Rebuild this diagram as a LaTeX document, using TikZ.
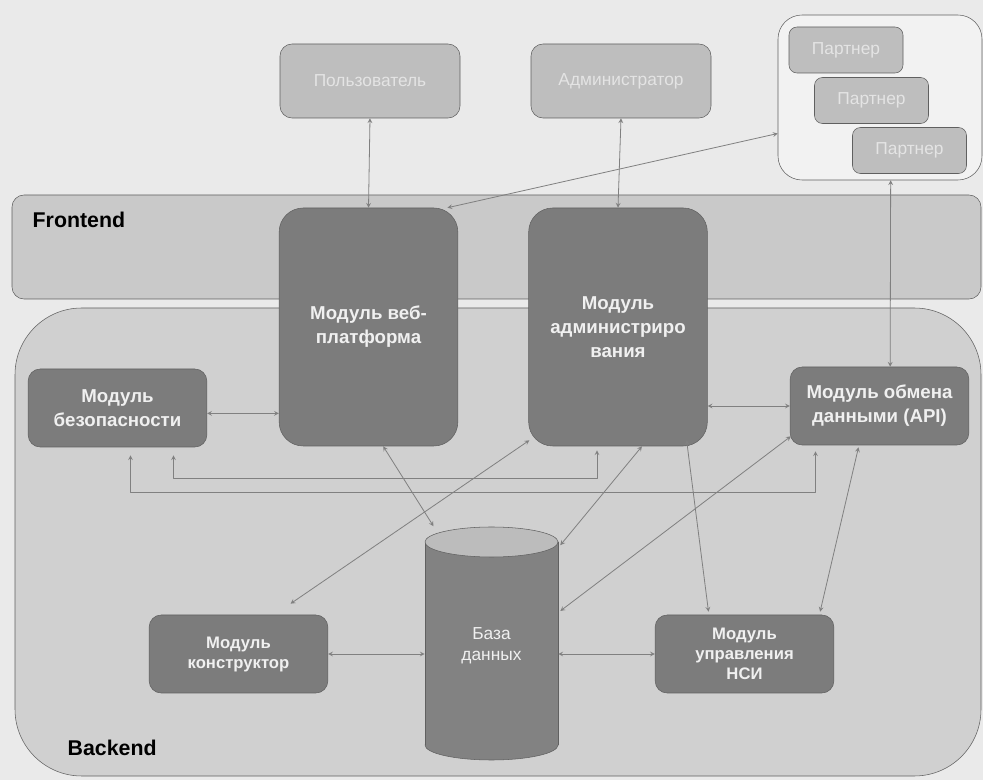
\documentclass[tikz,border=0pt]{standalone}
\usepackage{fontspec}
\setmainfont{Liberation Sans}
\usetikzlibrary{positioning}
\definecolor{paper}{RGB}{234,234,234}
\definecolor{feband}{RGB}{201,201,201}
\definecolor{beband}{RGB}{208,208,208}
\definecolor{modg}{RGB}{124,124,124}
\definecolor{actg}{RGB}{190,190,190}
\definecolor{acttext}{RGB}{228,228,228}
\definecolor{boxwhite}{RGB}{242,242,242}
\definecolor{dbbody}{RGB}{130,130,130}
\definecolor{dbtop}{RGB}{188,188,188}
\definecolor{lineg}{RGB}{96,96,96}
\definecolor{arrg}{RGB}{128,128,128}
\definecolor{modtext}{RGB}{240,240,240}
\tikzset{
  module/.style={draw=lineg,fill=modg,rounded corners=9pt,text=modtext,align=center,
    font=\bfseries\fontsize{14}{18}\selectfont,minimum width=134pt,minimum height=58.5pt,inner sep=2pt},
  bigmodule/.style={module,rounded corners=18pt,minimum height=178.5pt},
  lowmodule/.style={module,font=\bfseries\fontsize{12.5}{15}\selectfont},
  actor/.style={draw=lineg,fill=actg,rounded corners=9pt,text=acttext,
    font=\fontsize{13}{16}\selectfont,minimum width=135pt,minimum height=55.5pt},
  partner/.style={actor,rounded corners=6pt,minimum width=85.5pt,minimum height=34.5pt},
  grouplabel/.style={anchor=west,font=\bfseries\fontsize{16}{19}\selectfont},
  link/.style={<->,draw=arrg,line width=0.6pt},
}
\begin{document}
\begin{tikzpicture}[x=0.75pt,y=-0.75pt,line cap=round,line join=round,>=stealth]
\fill[paper] (0,0) rectangle (983,780);
\useasboundingbox (0,0) rectangle (983,780);
% frontend and backend layers
\draw[lineg,fill=feband,rounded corners=9pt] (12,195) rectangle (981,299);
\draw[lineg,fill=beband,rounded corners=50pt] (15,308) rectangle (981,776);
\node[grouplabel] (fe) at (28,220) {Frontend};
\node[grouplabel] (be) at (63,748) {Backend};
% actors
\node[actor] (usr) at (370,81) {Пользователь};
\node[actor] (adminusr) at (621,81) {Администратор};
\node[draw=lineg,fill=boxwhite,rounded corners=18pt,minimum width=153pt,minimum height=123.75pt] (prt) at (880,97.5) {};
\node[partner] (p1) at (846,50) {Партнер};
\node[partner] (p2) at (871.5,100.5) {Партнер};
\node[partner] (p3) at (909.5,150.5) {Партнер};
% modules
\node[bigmodule] (web) at (368.5,327) {Модуль веб-\\платформа};
\node[bigmodule] (adm) at (618,327) {Модуль\\администриро\\вания};
\node[module] (sec) at (117.5,408) {Модуль\\безопасности};
\node[module] (api) at (879.5,406) {Модуль обмена\\данными (API)};
\node[lowmodule] (constr) at (238.5,654) {Модуль\\конструктор};
\node[lowmodule] (nsi) at (744.5,654) {Модуль\\управления\\НСИ};
% database
\begin{scope}[shift={(491.5,643.5)}]
\filldraw[draw=lineg,fill=dbbody] (0,101.5) ellipse [x radius=66.5,y radius=15];
\fill[dbbody] (-66.5,-101.5) rectangle (66.5,101.5);
\draw[lineg] (-66.5,-101.5)--(-66.5,101.5) (66.5,-101.5)--(66.5,101.5);
\filldraw[draw=lineg,fill=dbtop] (0,-101.5) ellipse [x radius=66.5,y radius=15];
\end{scope}
\node[text=modtext,align=center,font=\fontsize{13}{16}\selectfont,minimum width=99.75pt,minimum height=174.75pt] (db) at (491.5,646) {База\\данных};
% connectors
\draw[link] (usr.south)--(web.north);
\draw[link] (adminusr.south)--(adm.north);
\draw[link] ([xshift=-8pt]web.north east)--([yshift=-27pt]prt.west);
\draw[link] ([xshift=8pt]api.north)--([xshift=8pt]prt.south);
\draw[link] ([yshift=-4pt]sec.east)--([yshift=-4pt]sec.east -| web.west);
\draw[link] (api.west -| adm.east)--(api.west);
\draw[link] ([xshift=11pt]web.south)--([shift={(-58,-3)}]db.north);
\draw[link] ([shift={(1,-6)}]adm.south west)--([shift={(52,-11)}]constr.north);
\draw[link] ([xshift=18pt]adm.south)--([shift={(2,16)}]db.north east);
\draw[link] ([shift={(-21,-6)}]adm.south east)--([shift={(-36,-3)}]nsi.north);
\draw[link] ([shift={(1,-9)}]api.south west)--([shift={(2,-35)}]db.east);
\draw[link] ([shift={(-21,2)}]api.south)--([shift={(-14,-3)}]nsi.north east);
\draw[link] (constr.east)--(constr.east -| db.west);
\draw[link] (nsi.west -| db.east)--(nsi.west);
% bus lines
\draw[link] ([shift={(13,8)}]sec.south)--++(0,37) -| ([shift={(-64,6)}]api.south);
\draw[link] ([shift={(56,8)}]sec.south)--++(0,23) -| ([shift={(-21,4)}]adm.south);
\end{tikzpicture}
\end{document}
